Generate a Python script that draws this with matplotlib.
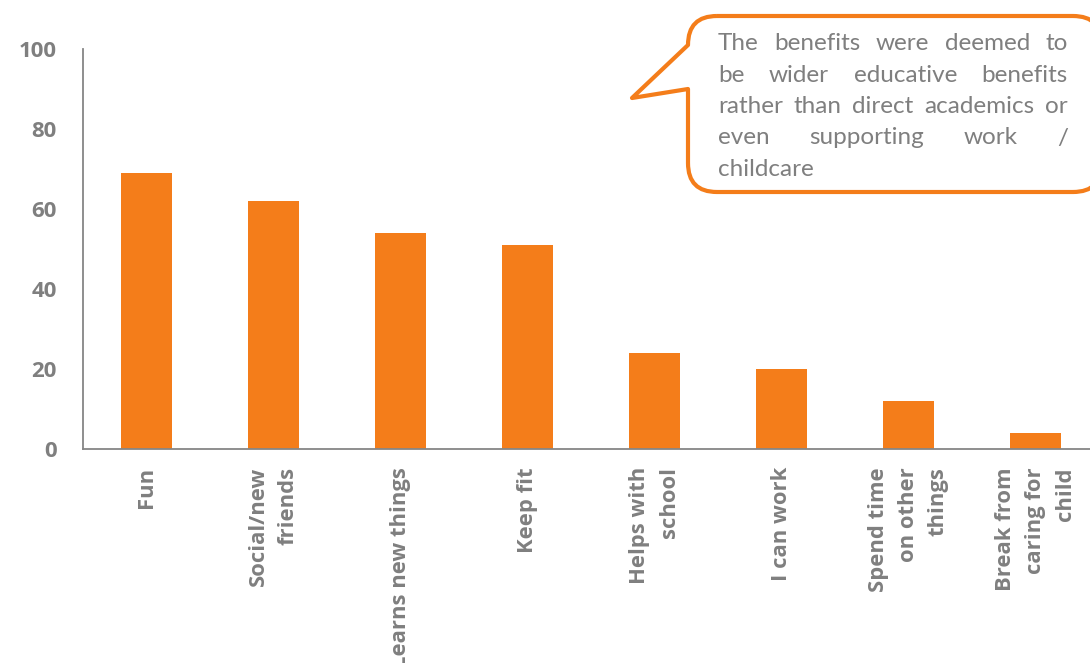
import numpy as np
import matplotlib.pyplot as plt
from matplotlib.path import Path
from matplotlib.patches import PathPatch

# survey answers (% of parents)
categories = ["Fun", "Social/new\nfriends", "Learns new things", "Keep fit",
              "Helps with\nschool", "I can work", "Spend time\non other\nthings",
              "Break from\ncaring for\nchild"]
values = [69, 62, 54, 51, 24, 20, 12, 4]
yticks = [0, 20, 40, 60, 80, 100]
note_lines = ["The benefits were deemed to",
              "be wider educative benefits",
              "rather than direct academics or",
              "even supporting work /",
              "childcare"]

ORANGE = "#F47D1A"
GREY = "#7F7F7F"
plt.rcParams['font.family'] = ['Lato', 'DejaVu Sans']
BOLD = ['Open Sans', 'DejaVu Sans']

W, H = 1090, 663
fig = plt.figure(figsize=(W / 100, H / 100), dpi=100)
ax = fig.add_axes([83 / W, (H - 449) / H, (1099 - 83) / W, 400 / H])

x = np.arange(len(values))
ax.bar(x, values, width=0.4, color=ORANGE, zorder=2)
ax.set_xlim(-0.5, len(values) - 0.5)
ax.set_ylim(0, 100)
ax.set_yticks(yticks)
ax.set_yticklabels([str(t) for t in yticks], fontsize=16, fontweight='bold',
                   color=GREY, family=BOLD)
ax.set_xticks(x)
ax.set_xticklabels(categories, rotation=90, ha='center', va='top',
                   multialignment='right', fontsize=15.8, fontweight='bold',
                   color=GREY, linespacing=1.55, family=BOLD)
ax.tick_params(axis='y', length=0, pad=19)
ax.tick_params(axis='x', length=0, pad=13)
for s in ['top', 'right']:
    ax.spines[s].set_visible(False)
for s in ['left', 'bottom']:
    ax.spines[s].set_color("#868686")
    ax.spines[s].set_linewidth(1.3)

# callout bubble, drawn in pixel coordinates
ov = fig.add_axes([0, 0, 1, 1])
ov.set_xlim(0, W)
ov.set_ylim(H, 0)
ov.axis('off')

L, T, R, B, r = 688, 16, 1102, 192, 29
verts = [(L + r, T), (R - r, T), (R, T), (R, T + r), (R, B - r), (R, B), (R - r, B),
         (L + r, B), (L, B), (L, B - r), (L, 89), (632, 98), (L, T + r), (L, T), (L + r, T)]
codes = [Path.MOVETO, Path.LINETO, Path.CURVE3, Path.CURVE3, Path.LINETO, Path.CURVE3,
         Path.CURVE3, Path.LINETO, Path.CURVE3, Path.CURVE3, Path.LINETO, Path.LINETO,
         Path.LINETO, Path.CURVE3, Path.CURVE3]
ov.add_patch(PathPatch(Path(verts, codes), facecolor='white', edgecolor=ORANGE,
                       linewidth=3, joinstyle='round', clip_on=False))

# justified text inside the bubble
renderer = fig.canvas.get_renderer()
x0, x1 = 718, 1068
base = 50
for i, line in enumerate(note_lines):
    words = line.split()
    texts = [ov.text(0, base + i * 31.5, w, fontsize=17.5, color=GREY,
                     ha='left', va='baseline') for w in words]
    widths = [t.get_window_extent(renderer).width for t in texts]
    if i == len(note_lines) - 1 or len(words) == 1:
        gap = renderer.points_to_pixels(17.5) * 0.25
    else:
        gap = (x1 - x0 - sum(widths)) / (len(words) - 1)
    pos = x0
    for t, wd in zip(texts, widths):
        t.set_x(pos)
        pos += wd + gap

fig.savefig("out.png", dpi=100)
